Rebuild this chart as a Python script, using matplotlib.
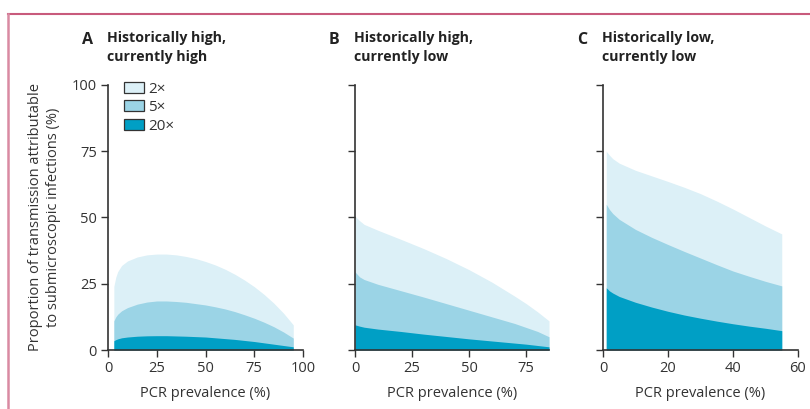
import matplotlib
matplotlib.use("Agg")
import matplotlib.pyplot as plt
from matplotlib.patches import Patch
from matplotlib.lines import Line2D

plt.rcParams['font.family'] = ['Open Sans', 'DejaVu Sans']

# ---- data ----
a_x = [3, 4, 5, 7, 10, 15, 20, 25, 30, 35, 40, 45, 50, 55, 60, 65, 70, 75, 80, 85, 90, 95]
a_2x = [24, 27.5, 29.6, 31.9, 33.6, 35.1, 35.9, 36.2, 36.2, 35.9, 35.3, 34.5, 33.4, 32.1, 30.5, 28.6,
        26.4, 23.9, 21, 17.7, 13.9, 9.5]
a_5x = [11, 12.5, 13.5, 14.8, 16, 17.3, 18.1, 18.5, 18.5, 18.3, 18, 17.5, 17, 16.3, 15.5, 14.5,
        13.3, 12, 10.5, 8.8, 6.8, 4.5]
a_20x = [3.5, 3.9, 4.2, 4.6, 4.9, 5.2, 5.35, 5.4, 5.4, 5.3, 5.2, 5.05, 4.9, 4.6, 4.3, 4, 3.6, 3.2,
         2.7, 2.2, 1.7, 1.2]

b_x = [0, 2, 4, 10, 20, 30, 40, 50, 60, 70, 75, 80, 85]
b_2x = [50.5, 48.8, 47.4, 45.2, 41.8, 38.3, 34.5, 30.3, 25.6, 20.3, 17.5, 14.4, 11]
b_5x = [29.5, 27.6, 26.6, 24.8, 22.4, 20, 17.5, 15, 12.5, 10, 8.5, 7, 5]
b_20x = [9.5, 9, 8.6, 7.9, 7, 6, 5.1, 4.2, 3.4, 2.6, 2.2, 1.7, 1.2]

c_x = [1, 2, 3, 5, 10, 15, 20, 25, 30, 35, 40, 45, 50, 55]
c_2x = [75, 73.5, 72.2, 70.5, 67.8, 65.7, 63.6, 61.4, 59, 56.2, 53.2, 50, 46.8, 43.8]
c_5x = [55, 53, 51.5, 49.3, 45.5, 42.5, 39.8, 37.2, 34.7, 32.2, 29.8, 27.8, 25.9, 24.2]
c_20x = [23.5, 22.3, 21.5, 20.2, 18, 16.2, 14.6, 13.2, 12, 10.9, 9.9, 9, 8.2, 7.3]

series_labels = ["2×", "5×", "20×"]
colors = ["#dcf0f7", "#9bd4e6", "#009fc5"]

panels = [
    ("A", "Historically high,\ncurrently high", a_x, [a_2x, a_5x, a_20x], (0, 100), [0, 25, 50, 75, 100]),
    ("B", "Historically high,\ncurrently low", b_x, [b_2x, b_5x, b_20x], (0, 85), [0, 25, 50, 75]),
    ("C", "Historically low,\ncurrently low", c_x, [c_2x, c_5x, c_20x], (0, 60), [0, 20, 40, 60]),
]

W, H = 810, 409
fig = plt.figure(figsize=(W / 100, H / 100), dpi=100)

lefts = [108, 355, 603]
widths = [195, 194, 195]
bottom_px, top_px = 350, 85
axcol = "#333333"
txtcol = "#333333"

for i, (letter, title, xs, ys, xlim, xticks) in enumerate(panels):
    ax = fig.add_axes([lefts[i] / W, 1 - bottom_px / H, widths[i] / W, (bottom_px - top_px) / H])
    for y, c in zip(ys, colors):
        ax.fill_between(xs, 0, y, color=c, linewidth=0)
    ax.set_xlim(*xlim)
    ax.set_ylim(0, 100)
    ax.set_xticks(xticks)
    ax.set_yticks([0, 25, 50, 75, 100])
    for s in ["top", "right"]:
        ax.spines[s].set_visible(False)
    for s in ["left", "bottom"]:
        ax.spines[s].set_color(axcol)
        ax.spines[s].set_linewidth(1.2)
    ax.tick_params(direction="out", length=5, width=1, color=axcol, labelcolor=txtcol,
                   labelsize=10.5, pad=3)
    if i > 0:
        ax.set_yticklabels([])
    ax.set_xlabel("PCR prevalence (%)", fontsize=10.5, color=txtcol, labelpad=7)
    # titles
    tx = lefts[i] - 26
    fig.text(tx / W, 1 - 40 / H, letter, fontsize=11.5, fontweight="bold", color="#222222",
             ha="left", va="center")
    fig.text((tx + 25) / W, 1 - 31 / H, title, fontsize=10.2, fontweight="bold", color="#222222",
             ha="left", va="top", linespacing=1.45)
    if i == 0:
        ax.set_ylabel("Proportion of transmission attributable\nto submicroscopic infections (%)",
                      fontsize=10.5, color=txtcol, labelpad=8, linespacing=1.25)
        handles = [Patch(facecolor=c, edgecolor="#333333", linewidth=0.9) for c in colors]
        leg = ax.legend(handles, series_labels, loc="upper left", bbox_to_anchor=(0.05, 1.035),
                        frameon=False, fontsize=11, handlelength=1.3, handleheight=0.75,
                        handletextpad=0.3, labelspacing=0.22, borderaxespad=0)
        for t in leg.get_texts():
            t.set_color(txtcol)

# frame lines
fig.add_artist(Line2D([7.5 / W, 810 / W], [1 - 13.5 / H, 1 - 13.5 / H], color="#c85a7c", linewidth=1.5,
                      transform=fig.transFigure))
fig.add_artist(Line2D([7.5 / W, 7.5 / W], [1 - 13.5 / H, 0], color="#d98aa2", linewidth=1.8,
                      transform=fig.transFigure))

fig.savefig("out.png", dpi=100)
